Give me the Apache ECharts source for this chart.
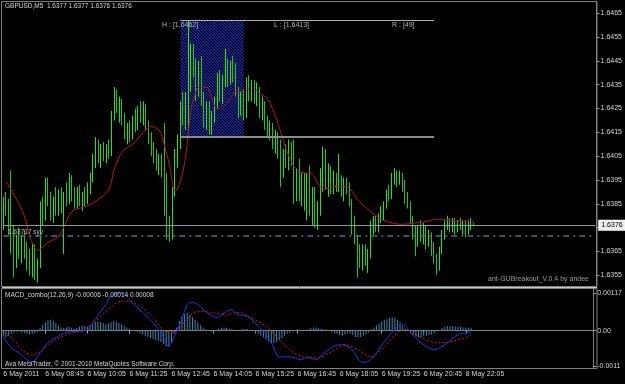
<!DOCTYPE html>
<html>
<head>
<meta charset="utf-8">
<script src="https://cdn.jsdelivr.net/npm/echarts@6/dist/echarts.min.js"></script>
<style>
  html, body { margin: 0; padding: 0; background: #000; }
  #chart { width: 625px; height: 384px; }
</style>
</head>
<body>
<div id="chart"></div>
<script>
// GBPUSD M5, 6-8 May 2011
var opens = [
  1.6382,1.6386,1.6383,1.6375,1.6372,1.6366,1.6369,1.6364,1.6370,1.6365,
  1.6360,1.6358,1.6366,1.6356,1.6360,1.6383,1.6380,1.6394,1.6386,1.6380,
  1.6386,1.6382,1.6389,1.6384,1.6388,1.6386,1.6395,1.6388,1.6385,1.6390,
  1.6386,1.6389,1.6387,1.6392,1.6396,1.6404,1.6410,1.6405,1.6408,1.6404,
  1.6409,1.6406,1.6422,1.6430,1.6425,1.6427,1.6420,1.6414,1.6417,1.6413,
  1.6420,1.6418,1.6424,1.6421,1.6426,1.6418,1.6412,1.6407,1.6404,1.6401,
  1.6404,1.6398,1.6390,1.6376,1.6372,1.6390,1.6405,1.6411,1.6425,1.6420,
  1.6429,1.6436,1.6450,1.6440,1.6432,1.6443,1.6428,1.6420,1.6426,1.6417,
  1.6422,1.6428,1.6437,1.6431,1.6436,1.6442,1.6437,1.6443,1.6439,1.6432,
  1.6424,1.6430,1.6422,1.6435,1.6430,1.6434,1.6429,1.6433,1.6424,1.6427,
  1.6418,1.6415,1.6418,1.6410,1.6413,1.6406,1.6398,1.6405,1.6402,1.6408,
  1.6403,1.6388,1.6397,1.6390,1.6395,1.6385,1.6394,1.6382,1.6389,1.6378,
  1.6383,1.6398,1.6405,1.6394,1.6399,1.6391,1.6396,1.6392,1.6395,1.6390,
  1.6394,1.6391,1.6386,1.6375,1.6371,1.6364,1.6362,1.6366,1.6361,1.6364,
  1.6376,1.6378,1.6375,1.6379,1.6382,1.6384,1.6390,1.6388,1.6396,1.6398,
  1.6394,1.6397,1.6392,1.6387,1.6385,1.6379,1.6373,1.6369,1.6374,1.6372,
  1.6375,1.6369,1.6372,1.6366,1.6362,1.6358,1.6365,1.6372,1.6377,1.6378,
  1.6375,1.6377,1.6374,1.6377,1.6375,1.6377,1.6373,1.6377,1.6377
];
var closes = [
  1.6386,1.6383,1.6375,1.6372,1.6366,1.6369,1.6364,1.6370,1.6365,1.6360,
  1.6358,1.6366,1.6356,1.6360,1.6383,1.6380,1.6394,1.6386,1.6380,1.6386,
  1.6382,1.6389,1.6384,1.6388,1.6386,1.6395,1.6388,1.6385,1.6390,1.6386,
  1.6389,1.6387,1.6392,1.6396,1.6404,1.6410,1.6405,1.6408,1.6404,1.6409,
  1.6406,1.6422,1.6430,1.6425,1.6427,1.6420,1.6414,1.6417,1.6413,1.6420,
  1.6418,1.6424,1.6421,1.6426,1.6418,1.6412,1.6407,1.6404,1.6401,1.6404,
  1.6398,1.6390,1.6376,1.6372,1.6390,1.6405,1.6411,1.6425,1.6420,1.6429,
  1.6436,1.6450,1.6440,1.6432,1.6443,1.6428,1.6420,1.6426,1.6417,1.6422,
  1.6428,1.6437,1.6431,1.6436,1.6442,1.6437,1.6443,1.6439,1.6432,1.6424,
  1.6430,1.6422,1.6435,1.6430,1.6434,1.6429,1.6433,1.6424,1.6427,1.6418,
  1.6415,1.6418,1.6410,1.6413,1.6406,1.6398,1.6405,1.6402,1.6408,1.6403,
  1.6388,1.6397,1.6390,1.6395,1.6385,1.6394,1.6382,1.6389,1.6378,1.6383,
  1.6398,1.6405,1.6394,1.6399,1.6391,1.6396,1.6392,1.6395,1.6390,1.6394,
  1.6391,1.6386,1.6375,1.6371,1.6364,1.6362,1.6366,1.6361,1.6364,1.6376,
  1.6378,1.6375,1.6379,1.6382,1.6384,1.6390,1.6388,1.6396,1.6398,1.6394,
  1.6397,1.6392,1.6387,1.6385,1.6379,1.6373,1.6369,1.6374,1.6372,1.6375,
  1.6369,1.6372,1.6366,1.6362,1.6358,1.6365,1.6372,1.6377,1.6378,1.6375,
  1.6377,1.6374,1.6377,1.6375,1.6377,1.6373,1.6377,1.6377,1.6376
];
var highs = [
  1.6388,1.6390,1.6387,1.6399,1.6376,1.6372,1.6375,1.6372,1.6374,1.6369,
  1.6366,1.6368,1.6368,1.6362,1.6386,1.6388,1.6396,1.6396,1.6390,1.6388,
  1.6392,1.6391,1.6392,1.6390,1.6394,1.6398,1.6397,1.6392,1.6392,1.6393,
  1.6390,1.6392,1.6394,1.6398,1.6406,1.6413,1.6412,1.6410,1.6411,1.6410,
  1.6412,1.6424,1.6434,1.6433,1.6430,1.6429,1.6423,1.6419,1.6420,1.6422,
  1.6425,1.6426,1.6428,1.6428,1.6427,1.6420,1.6415,1.6411,1.6408,1.6406,
  1.6406,1.6419,1.6398,1.6380,1.6392,1.6408,1.6414,1.6428,1.6432,1.6432,
  1.6462,1.6452,1.6452,1.6446,1.6445,1.6447,1.6432,1.6428,1.6428,1.6424,
  1.6430,1.6440,1.6441,1.6439,1.6450,1.6446,1.6445,1.6447,1.6444,1.6434,
  1.6432,1.6433,1.6438,1.6439,1.6437,1.6437,1.6436,1.6434,1.6430,1.6428,
  1.6422,1.6420,1.6419,1.6416,1.6415,1.6412,1.6408,1.6410,1.6412,1.6411,
  1.6412,1.6400,1.6404,1.6398,1.6398,1.6398,1.6401,1.6392,1.6392,1.6386,
  1.6400,1.6409,1.6408,1.6402,1.6401,1.6399,1.6398,1.6406,1.6397,1.6396,
  1.6396,1.6394,1.6387,1.6380,1.6372,1.6368,1.6368,1.6368,1.6366,1.6378,
  1.6380,1.6380,1.6381,1.6384,1.6386,1.6391,1.6393,1.6398,1.6400,1.6399,
  1.6399,1.6398,1.6395,1.6390,1.6386,1.6380,1.6376,1.6376,1.6378,1.6377,
  1.6376,1.6374,1.6373,1.6369,1.6364,1.6367,1.6374,1.6378,1.6380,1.6379,
  1.6379,1.6379,1.6378,1.6379,1.6378,1.6378,1.6378,1.6379,1.6377
];
var lows = [
  1.6374,1.6380,1.6372,1.6364,1.6354,1.6358,1.6362,1.6360,1.6362,1.6357,
  1.6355,1.6354,1.6353,1.6352,1.6358,1.6376,1.6378,1.6384,1.6378,1.6377,
  1.6380,1.6380,1.6381,1.6364,1.6384,1.6385,1.6386,1.6383,1.6383,1.6384,
  1.6382,1.6384,1.6385,1.6389,1.6394,1.6400,1.6402,1.6400,1.6403,1.6402,
  1.6404,1.6405,1.6420,1.6423,1.6419,1.6418,1.6412,1.6410,1.6411,1.6412,
  1.6415,1.6416,1.6419,1.6418,1.6416,1.6410,1.6405,1.6402,1.6399,1.6397,
  1.6396,1.6380,1.6370,1.6369,1.6370,1.6388,1.6400,1.6408,1.6418,1.6416,
  1.6415,1.6432,1.6438,1.6428,1.6430,1.6426,1.6417,1.6416,1.6414,1.6414,
  1.6419,1.6425,1.6428,1.6427,1.6434,1.6434,1.6435,1.6436,1.6430,1.6421,
  1.6422,1.6420,1.6421,1.6428,1.6428,1.6427,1.6426,1.6421,1.6420,1.6416,
  1.6413,1.6412,1.6408,1.6406,1.6404,1.6392,1.6396,1.6400,1.6399,1.6401,
  1.6385,1.6386,1.6386,1.6384,1.6382,1.6378,1.6380,1.6376,1.6375,1.6374,
  1.6380,1.6390,1.6391,1.6388,1.6389,1.6389,1.6390,1.6390,1.6388,1.6386,
  1.6389,1.6384,1.6372,1.6368,1.6354,1.6358,1.6357,1.6359,1.6356,1.6362,
  1.6372,1.6373,1.6373,1.6377,1.6378,1.6383,1.6386,1.6387,1.6393,1.6392,
  1.6393,1.6390,1.6385,1.6383,1.6377,1.6370,1.6363,1.6367,1.6369,1.6368,
  1.6366,1.6367,1.6363,1.6360,1.6355,1.6357,1.6364,1.6370,1.6374,1.6373,
  1.6373,1.6372,1.6373,1.6374,1.6372,1.6371,1.6372,1.6374,1.6376
];

// red moving average, read at sample bars
var maIdx = [1,4,8,10,13,17,21,23,26,30,33,37,40,42,44,46,49,53,56,59,60,63,65,67,69,71,72,74,77,79,81,85,88,91,94,96,100,103,105,107,110,113,117,121,126,130,132,134,138,142,146,151,155,160,164,171,178];
var maVal = [1.63944,1.6389,1.6380,1.63713,1.63655,1.63688,1.63713,1.63755,1.63818,1.63835,1.63848,1.63877,1.63911,1.63995,1.6405,1.64079,1.641,1.6415,1.64175,1.64159,1.64133,1.64007,1.63902,1.63944,1.6405,1.64247,1.64289,1.64339,1.64339,1.64289,1.64247,1.64276,1.64322,1.64322,1.64339,1.64322,1.64289,1.64217,1.6415,1.64079,1.64007,1.63982,1.63974,1.63911,1.63923,1.63923,1.63902,1.63869,1.63827,1.63793,1.63772,1.63764,1.63768,1.63776,1.63785,1.6378,1.63776];

// MACD_combo(12,26,9)
var macdIdx = [0,3,6,11,14,17,20,24,28,32,35,37,39,41,44,46,49,53,57,60,63,65,68,70,72,74,77,81,85,87,89,93,97,100,102,105,108,111,113,116,119,122,128,132,137,140,145,150,152,155,159,164,168,173,178];
var macdVal = [-0.00019,-0.00054,-0.0007,-0.00098,-0.0007,-0.00038,-0.00022,-0.00006,-0.00003,0.00003,0.00035,0.0006,0.00082,0.00107,0.00118,0.00115,0.00088,0.00057,0.00025,-0.00006,-0.0005,-0.0002,0.00035,0.00082,0.00088,0.00082,0.0006,0.00041,0.0006,0.00066,0.0005,0.00044,0.00013,-0.00013,-0.00038,-0.00082,-0.00082,-0.00085,-0.00092,-0.00082,-0.00092,-0.0007,-0.00044,-0.00054,-0.00101,-0.0009,-0.00035,0.00013,0.0002,-0.00006,-0.00038,-0.0006,-0.00044,-0.00013,-0.00006];
var sigIdx = [0,4,7,11,14,18,24,30,35,40,45,48,52,57,62,66,69,74,79,85,89,94,100,105,110,116,120,125,130,135,140,145,150,153,158,165,170,177,178];
var sigVal = [-0.00006,-0.00028,-0.0006,-0.00076,-0.00066,-0.00038,-0.00013,0.00003,0.00028,0.00066,0.00092,0.00092,0.00076,0.00041,-0.00003,-0.00003,0.00028,0.0006,0.00057,0.0005,0.00057,0.00041,0.00013,-0.00028,-0.00066,-0.00085,-0.00085,-0.00066,-0.00044,-0.0006,-0.00082,-0.0005,-0.00006,0.00003,-0.00019,-0.00038,-0.00035,-0.00019,-0.00014];
var histVal = [
  -0.00018,-0.0002,-0.00016,-0.00012,-0.00006,-0.00004,-0.00003,
  -0.00006,-0.00008,-0.0001,-0.00012,-0.0001,-0.00008,-0.00004,
  0.00008,0.00018,0.00026,0.00032,0.00034,0.0003,0.00024,
  0.00016,0.0001,0.00008,0.0001,0.00012,0.00008,0.00006,
  0.00008,0.00012,0.00016,0.00014,0.00012,0.00016,
  0.0002,0.00026,0.00028,0.00026,0.00024,0.0002,0.00022,0.00026,0.0003,0.00028,0.00024,0.0002,
  0.00014,0.0001,0.00006,0.00002,0,-0.00004,-0.00008,
  -0.00012,-0.00016,-0.0002,-0.00024,-0.00026,-0.0003,-0.00032,-0.00036,-0.00042,-0.00048,
  -0.0005,-0.00036,
  -0.0001,0.0001,0.0003,0.00045,0.00052,0.00056,0.0005,
  0.00042,0.00034,0.00026,0.00018,0.0001,0.00004,0,
  -0.00004,-0.00002,0.00002,0.00006,0.00008,0.0001,0.00008,0.00006,0.00004,0.00002,-0.00002,0,0.00004,0.00006,0.00004,0.00002,0,
  -0.00006,-0.0001,-0.00016,-0.00022,-0.00028,-0.00034,-0.00038,-0.0004,-0.00036,-0.0003,-0.00024,-0.00016,-0.0001,
  -0.00006,-0.00002,0.00002,0.00004,0.00002,-0.00002,0,0.00004,0.00008,0.0001,0.0001,0.00008,0.00006,0.00004,0.00002,0,-0.00004,
  -0.00008,-0.0001,-0.00014,-0.00016,-0.00012,-0.00008,-0.0001,-0.00014,-0.0002,-0.00022,-0.0002,-0.00016,-0.00012,-0.00006,
  0.00004,0.0001,0.00016,0.00022,0.00028,0.00032,0.00036,0.0004,0.00042,0.0004,0.00034,0.00026,0.00016,0.00006,
  -0.00002,-0.00008,-0.00014,-0.00018,-0.0002,-0.0002,-0.00018,-0.00016,-0.00014,-0.00012,-0.00008,-0.00004,0.00002,
  0.00008,0.00012,0.00014,0.00015,0.00014,0.00013,0.00012,0.00011,0.0001,0.0001,0.00009,0.00008
];

var priceTicks = [1.6355,1.6365,1.6375,1.6385,1.6395,1.6405,1.6415,1.6425,1.6435,1.6445,1.6455,1.6465];
// 1.6375 sits under the bid price box
var priceTickLabels = ['1.6355','1.6365','','1.6385','1.6395','1.6405','1.6415','1.6425','1.6435','1.6445','1.6455','1.6465'];
var macdTicks = [0.00117, 0, -0.0011];
var macdTickLabels = ['0.00117', '0.00', '-0.0011'];
var timeLabels = ['6 May 2011','6 May 08:45','6 May 10:05','6 May 11:25','6 May 12:45','6 May 14:05','6 May 15:25','6 May 16:45','6 May 18:05','6 May 19:25','6 May 20:45','8 May 22:05'];
var labelStep = 16;

var bidPrice = 1.6376;
var syvPrice = 1.63717;
var boxHigh = 1.6462, boxLow = 1.6413;
var boxFrom = 67, boxTo = 91, rangeEnd = 163;
var nSlots = 225;

var slots = [];
for (var s = 0; s < nSlots; s++) slots.push(String(s));

var ohlc = opens.map(function (o, i) { return [o, closes[i], lows[i], highs[i]]; });
function pairs(idx, val) { return idx.map(function (x, k) { return [x, val[k]]; }); }

// blue hatched fill for the breakout box, drawn over the candles
var pat = document.createElement('canvas');
pat.width = 3; pat.height = 3;
var pg = pat.getContext('2d');
pg.fillStyle = 'rgba(6,12,72,0.78)'; pg.fillRect(0, 0, 3, 3);
pg.fillStyle = '#1c30a4';
for (var d = 0; d < 3; d++) { pg.fillRect(d, d, 1, 1); }

var font = 'Liberation Sans';
var txt = '#d4d4d4';
var frame = '#808080';

var chart = echarts.init(document.getElementById('chart'), null, { renderer: 'canvas' });

function timeTick(idx) { return idx % labelStep === 0 && idx / labelStep < timeLabels.length; }

chart.setOption({
  backgroundColor: '#000',
  animation: false,
  textStyle: { fontFamily: font },
  grid: [
    { left: 2, top: 2, width: 595, height: 284 },
    { left: 2, top: 289, width: 595, height: 79 }
  ],
  xAxis: [
    { type: 'category', gridIndex: 0, data: slots, boundaryGap: true,
      axisLine: { show: false }, axisTick: { show: false }, axisLabel: { show: false }, splitLine: { show: false } },
    { type: 'category', gridIndex: 1, data: slots, boundaryGap: true,
      axisLine: { show: true, lineStyle: { color: frame } },
      axisTick: { show: true, interval: timeTick, alignWithLabel: true, length: 3, lineStyle: { color: '#a0a0a0' } },
      axisLabel: { show: true, interval: timeTick, color: txt, fontSize: 7, fontFamily: font, align: 'left', margin: 3,
        formatter: function (v, idx) { return timeLabels[idx / labelStep]; } },
      splitLine: { show: false } }
  ],
  yAxis: [
    { type: 'value', gridIndex: 0, position: 'right', min: 1.63505, max: 1.64697,
      axisLine: { show: true, lineStyle: { color: frame } },
      axisTick: { show: true, length: 3, customValues: priceTicks, lineStyle: { color: '#a0a0a0' } },
      axisLabel: { color: txt, fontSize: 7, fontFamily: font, margin: 4, customValues: priceTicks,
        formatter: function (v) { var k = priceTicks.indexOf(v); return k >= 0 ? priceTickLabels[k] : ''; } },
      splitLine: { show: false } },
    { type: 'value', gridIndex: 1, position: 'right', min: -0.00117, max: 0.0013,
      axisLine: { show: true, lineStyle: { color: frame } },
      axisTick: { show: true, length: 3, customValues: macdTicks, lineStyle: { color: '#a0a0a0' } },
      axisLabel: { color: txt, fontSize: 7, fontFamily: font, margin: 4, customValues: macdTicks,
        formatter: function (v) { var k = macdTicks.indexOf(v); return k >= 0 ? macdTickLabels[k] : ''; } },
      splitLine: { show: false } }
  ],
  series: [
    {
      name: 'GBPUSD', type: 'candlestick', xAxisIndex: 0, yAxisIndex: 0,
      data: ohlc, barWidth: 1, z: 2,
      itemStyle: { color: '#a6ff70', color0: '#2e6473', borderColor: '#1ee61e', borderColor0: '#1cc428', borderWidth: 1 }
    },
    {
      name: 'box', type: 'line', xAxisIndex: 0, yAxisIndex: 0, data: [], z: 3,
      markArea: {
        silent: true,
        itemStyle: { color: { image: pat, repeat: 'repeat' }, opacity: 1 },
        data: [[{ coord: [boxFrom, boxHigh] }, { coord: [boxTo, boxLow] }]]
      },
      markLine: {
        silent: true, symbol: 'none', label: { show: false },
        data: [
          [{ coord: [boxFrom, boxHigh], lineStyle: { color: '#b0b0b0', width: 1, type: 'solid' } }, { coord: [rangeEnd, boxHigh] }],
          [{ coord: [boxFrom, boxLow], lineStyle: { color: '#8a8a8a', width: 2, type: 'solid' } }, { coord: [rangeEnd, boxLow] }],
          [{ coord: [0, syvPrice], lineStyle: { color: '#3f7391', width: 1.5, type: [6, 4, 2, 4] } }, { coord: [nSlots - 1, syvPrice] }],
          [{ coord: [0, bidPrice], lineStyle: { color: '#8d99a6', width: 1, type: 'solid' },
             label: { show: true, position: 'end', formatter: '1.6376', color: '#000', backgroundColor: '#ececec',
               borderColor: '#fff', borderWidth: 1, padding: [1, 2], fontSize: 7, fontFamily: font, distance: 4 } },
           { coord: [nSlots - 1, bidPrice] }]
        ]
      }
    },
    {
      name: 'MA', type: 'line', xAxisIndex: 0, yAxisIndex: 0,
      data: pairs(maIdx, maVal), smooth: 0.3, showSymbol: false,
      lineStyle: { color: '#c0102c', width: 1 }, z: 4
    },
    {
      name: 'hist', type: 'bar', xAxisIndex: 1, yAxisIndex: 1,
      data: histVal, barWidth: 1, itemStyle: { color: '#3b87ab' }
    },
    {
      name: 'MACD', type: 'line', xAxisIndex: 1, yAxisIndex: 1,
      data: pairs(macdIdx, macdVal), smooth: 0.3, showSymbol: false,
      lineStyle: { color: '#2234f0', width: 1 }, z: 3
    },
    {
      name: 'Signal', type: 'line', xAxisIndex: 1, yAxisIndex: 1,
      data: pairs(sigIdx, sigVal), smooth: 0.3, showSymbol: false,
      lineStyle: { color: '#e0102e', width: 1, type: [2, 2] }, z: 3
    }
  ],
  graphic: [
    { type: 'rect', z: 50, shape: { x: 1.5, y: 1.5, width: 595.5, height: 285 }, style: { fill: null, stroke: frame, lineWidth: 1 }, silent: true },
    { type: 'rect', z: 50, shape: { x: 1.5, y: 288.5, width: 595.5, height: 80 }, style: { fill: null, stroke: frame, lineWidth: 1 }, silent: true },
    { type: 'line', z: 50, shape: { x1: 2, y1: 287.5, x2: 597, y2: 287.5 }, style: { stroke: '#c8c8c8', lineWidth: 1 }, silent: true },
    { type: 'text', z: 50, left: 5, top: 3, style: { text: 'GBPUSD,M5  1.6377 1.6377 1.6376 1.6376', fill: txt, font: '6.5px "Liberation Sans"' } },
    { type: 'text', z: 50, left: 162, top: 22, style: { text: 'H : [1.6462]', fill: '#b4b4b4', font: '7px "Liberation Sans"' } },
    { type: 'text', z: 50, left: 274, top: 22, style: { text: 'L : [1.6413]', fill: '#b4b4b4', font: '7px "Liberation Sans"' } },
    { type: 'text', z: 50, left: 392, top: 22, style: { text: 'R : [49]', fill: '#b4b4b4', font: '7px "Liberation Sans"' } },
    { type: 'text', z: 50, left: 8, top: 229, style: { text: '1.63717 syv', fill: '#b8b8b8', font: '6.5px "Liberation Sans"' } },
    { type: 'text', z: 50, right: 36, top: 276, style: { text: 'ant-GUBreakout_V.0.4 by andee', fill: '#9a9a9a', font: '7px "Liberation Sans"' } },
    { type: 'text', z: 50, left: 5, top: 292, style: { text: 'MACD_combo(12,26,9) -0.00006 -0.00014 0.00008', fill: txt, font: '6.5px "Liberation Sans"' } },
    { type: 'text', z: 50, left: 5, top: 361, style: { text: 'Ava MetaTrader, \u00a9 2001-2010 MetaQuotes Software Corp.', fill: txt, font: '6.5px "Liberation Sans"' } }
  ]
});
</script>
</body>
</html>
